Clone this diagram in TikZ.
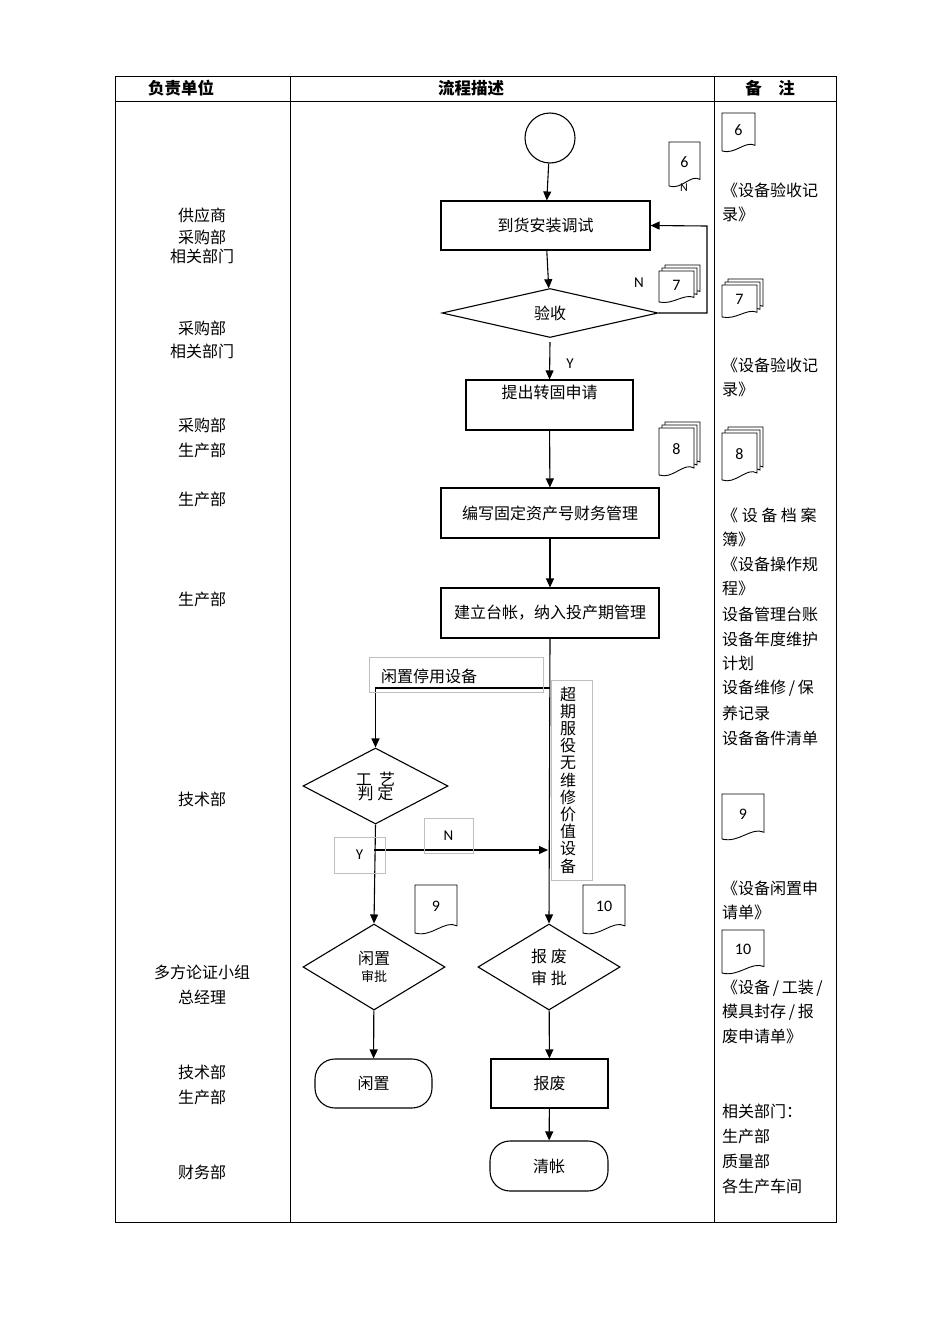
\documentclass[tikz,border=0pt]{standalone}
\usepackage{fontspec}
\setmainfont{Noto Sans CJK SC}
\newfontfamily\latfont{Carlito}
\usetikzlibrary{shapes.geometric,arrows.meta}
\tikzset{
  box/.style={draw,line width=1.1pt,minimum width=#1,inner sep=0pt},
  dia/.style={draw,line width=1.1pt,diamond,aspect=2.9,inner sep=0pt},
  arr/.style={line width=1.1pt,-{Triangle[length=9pt,width=8pt]}},
  lab/.style={font=\fontsize{16}{19}\selectfont,inner sep=0pt},
  glab/.style={draw=gray!50,line width=0.6pt,inner sep=0pt},
  txt/.style={font=\fontsize{16}{19}\selectfont,inner sep=0pt,anchor=west},
  ltxt/.style={font=\fontsize{16}{19}\selectfont,inner sep=0pt},
}
\newcommand{\docshape}[5]{% x y w h label
  \draw[line width=0.9pt,fill=white] (#1,#2+#4) -- (#1,#2) -- (#1+#3,#2) -- (#1+#3,#2+0.85*#4)
    .. controls (#1+0.7*#3,#2+0.72*#4) and (#1+0.4*#3,#2+1.1*#4) .. (#1,#2+#4);
  \node[font=\latfont\fontsize{16}{18}\selectfont] at (#1+0.5*#3,#2+0.45*#4) {#5};}
\newcommand{\stackdoc}[5]{%
  \docshape{#1+6}{#2-6}{#3}{#4}{}
  \docshape{#1+3}{#2-3}{#3}{#4}{}
  \docshape{#1}{#2}{#3}{#4}{#5}}
\begin{document}
\begin{tikzpicture}[x=1pt,y=-1pt]
\useasboundingbox (0,0) rectangle (950,1344);
% table
\draw[line width=1pt] (115,76) rectangle (836,1222);
\draw[line width=1pt] (115,101) -- (836,101) (290,76) -- (290,1222) (714,76) -- (714,1222);
\node[ltxt,font=\bfseries\fontsize{16.5}{19}\selectfont] (h1) at (181,88) {负责单位};
\node[ltxt,font=\bfseries\fontsize{16.5}{19}\selectfont] (h2) at (471,88) {流程描述};
\node[ltxt,font=\bfseries\fontsize{16.5}{19}\selectfont] (h3) at (770,88) {备\quad 注};
% left column
\foreach \t/\y [count=\i] in {供应商/215,采购部/237,相关部门/256,采购部/328,相关部门/351,采购部/425,生产部/450,生产部/499,生产部/599,技术部/799,多方论证小组/972,总经理/997,技术部/1072,生产部/1097,财务部/1172}
  \node[ltxt] (L\i) at (202,\y) {\t};
% right column
\foreach \t/\y [count=\i] in {{《设备验收记}/190,{录》}/214,{《设备验收记}/365,{录》}/389,{《\ 设\ 备\ 档\ 案}/515,{簿》}/539,{《设备操作规}/564,{程》}/588,{设备管理台账}/614,{设备年度维护}/639,{计划}/663,{设备维修\,/\,保}/688,{养记录}/713,{设备备件清单}/738,{《设备闲置申}/888,{请单》}/912,{《设备\,/\,工装\,/}/988,{模具封存\,/\,报}/1012,{废申请单》}/1036,{相关部门：}/1111,{生产部}/1136,{质量部}/1161,{各生产车间}/1186}
  \node[txt] (R\i) at (722,\y) {\t};
% flow
\node[draw,line width=1.1pt,circle,minimum size=50pt,inner sep=0pt] (start) at (550,138) {};
\node[box=209pt,minimum height=49pt,lab] (a) at (545.5,225.5) {到货安装调试};
\node[dia,minimum width=216pt,minimum height=49pt,lab] (b) at (550,313) {验收};
\node[box=167pt,minimum height=50pt,lab,text depth=26pt] (c) at (549.5,405) {提出转固申请};
\draw[line width=1.8pt] (c.south west) -- (c.south east);
\node[box=218pt,minimum height=50pt,lab] (d) at (550,513) {编写固定资产号财务管理};
\node[box=218pt,minimum height=50pt,lab] (e) at (550,613) {建立台帐，纳入投产期管理};
\node[dia,minimum width=145pt,minimum height=76pt,lab,align=center] (f) at (375.5,786) {工\ \ 艺\\[-5pt]判\ 定};
\node[dia,minimum width=142pt,minimum height=86pt,align=center] (g) at (374,967) {\fontsize{16}{19}\selectfont 闲置\\[4pt]\fontsize{13}{15}\selectfont 审批};
\node[dia,minimum width=142pt,minimum height=86pt,align=center,font=\fontsize{16}{19}\selectfont] (h) at (549,967) {报 废\\[3pt]审 批};
\node[draw,line width=1.1pt,rounded corners=20pt,minimum width=117pt,minimum height=49pt,lab] (i) at (373.5,1083.5) {闲置};
\node[box=117pt,minimum height=49pt,lab] (j) at (549.5,1083.5) {报废};
\node[draw,line width=1.1pt,rounded corners=20pt,minimum width=118pt,minimum height=50pt,lab] (k) at (549,1166) {清帐};
\coordinate (fb1) at (707,313);
\coordinate (fb2) at (707,226);
\coordinate (sp) at (550,688);
\coordinate (yb) at (374,850);
\coordinate (nb) at (548,850);
\draw[arr] (start) -- (a);
\draw[arr] (a) -- (b);
\draw[arr] (b.south) ++(0,4) -- (c.north);
\draw[arr] (c) -- (d);
\draw[arr] (d) -- (e);
\draw[arr] (b.east) -- (fb1) -- (fb2) -- (a.east);
\draw[arr] (e.south) -- (h.north);
\draw[arr] (sp) -| (f.north);
\draw[arr] (f.south) -- (g.north);
\draw[arr] (yb) -- (nb);
\draw[arr] (g) -- (i);
\draw[arr] (h) -- (j);
\draw[arr] (j) -- (k);
\node[lab,font=\latfont\fontsize{15}{17}\selectfont] (nlab) at (639,283) {N};
\node[lab,font=\latfont\fontsize{15}{17}\selectfont] (ylab) at (570,364) {Y};
\node[glab,minimum width=174pt,minimum height=35pt] (gl1) at (456,674.5) {};
\node[lab,anchor=west] (gl1t) at (381,676) {闲置停用设备};
\node[glab,minimum width=41pt,minimum height=200pt] (gl2) at (571.5,780) {};
\node[lab,align=center,font=\fontsize{16}{17.2}\selectfont] (gl2t) at (568,780) {超\\期\\服\\役\\无\\维\\修\\价\\值\\设\\备};
\node[glab,minimum width=51pt,minimum height=36pt,font=\latfont\fontsize{15}{17}\selectfont] (gy) at (359.5,855) {Y};
\node[glab,minimum width=49pt,minimum height=35pt,font=\latfont\fontsize{15}{17}\selectfont] (gn) at (448.5,835.5) {N};
% docs
\docshape{669}{142}{31}{44}{6}
\node[font=\latfont\fontsize{12}{13}\selectfont,inner sep=0pt] (n6) at (684,188) {N};
\stackdoc{659}{271}{35}{31}{7}
\stackdoc{659}{428}{35}{47}{8}
\docshape{415}{885}{42}{48}{9}
\docshape{583}{885}{42}{48}{10}
\docshape{722}{113}{33}{38}{6}
\stackdoc{722}{285}{35}{32}{7}
\stackdoc{722}{433}{35}{47}{8}
\docshape{722}{794}{42}{45}{9}
\docshape{722}{930}{42}{43}{10}
\end{tikzpicture}
\end{document}
